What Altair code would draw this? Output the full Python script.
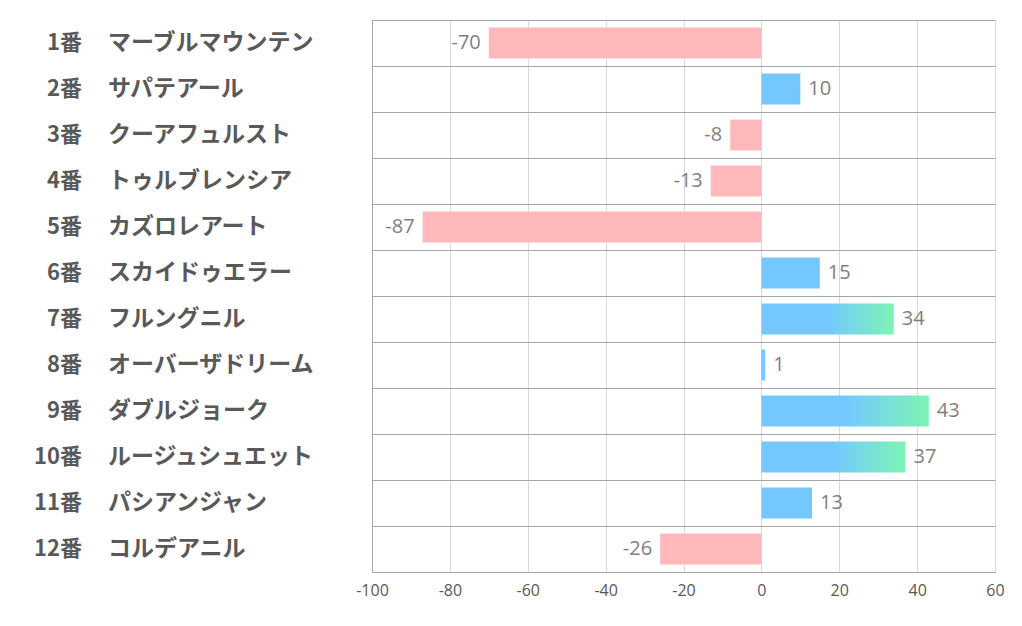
import altair as alt
import pandas as pd

nums = ["1番", "2番", "3番", "4番", "5番", "6番", "7番", "8番", "9番", "10番", "11番", "12番"]
names = ["マーブルマウンテン", "サパテアール", "クーアフュルスト", "トゥルブレンシア", "カズロレアート",
         "スカイドゥエラー", "フルングニル", "オーバーザドリーム", "ダブルジョーク", "ルージュシュエット",
         "パシアンジャン", "コルデアニル"]
values = [-70, 10, -8, -13, -87, 15, 34, 1, 43, 37, 13, -26]
x_ticks = [-100, -80, -60, -40, -20, 0, 20, 40, 60]

df = pd.DataFrame({"num": nums, "name": names, "value": values})
df["label"] = [str(v) for v in values]

y_enc = alt.Y("num:N", sort=nums, title=None,
              scale=alt.Scale(paddingInner=0, paddingOuter=0),
              axis=alt.Axis(labels=False, ticks=False, domain=True, domainColor="#a6a6a6",
                            grid=True, gridColor="#a6a6a6", tickBand="extent"))
x_enc = alt.X("value:Q", title=None,
              scale=alt.Scale(domain=[-100, 60], nice=False),
              axis=alt.Axis(values=x_ticks, ticks=False, domain=True, domainColor="#a6a6a6",
                            grid=True, gridColor="#d9d9d9", labelFontSize=16, labelColor="#595959",
                            labelPadding=10, labelFont="Open Sans", labelFlush=False,
                            labelExpr="'' + datum.value"))

base = alt.Chart(df)
bh = alt.RelativeBandSize(0.67)

neg = base.transform_filter("datum.value < 0").mark_bar(color="#FFB9BC", height=bh).encode(
    y=y_enc, x=x_enc, x2=alt.datum(0))
pos = base.transform_filter("datum.value >= 0 && datum.value < 30").mark_bar(
    color="#75C8FF", height=bh).encode(y=y_enc, x=x_enc, x2=alt.datum(0))
grad = alt.Gradient(gradient="linear", x1=0, y1=0, x2=1, y2=0,
                    stops=[alt.GradientStop(color="#75C8FF", offset=0),
                           alt.GradientStop(color="#75C8FF", offset=0.5),
                           alt.GradientStop(color="#7CF5B4", offset=1)])
pos_big = base.transform_filter("datum.value >= 30").mark_bar(color=grad, height=bh).encode(
    y=y_enc, x=x_enc, x2=alt.datum(0))

lab_pos = base.transform_filter("datum.value >= 0").mark_text(
    align="left", baseline="middle", dx=8, fontSize=20, color="#7f7f7f", font="Open Sans").encode(
    y=alt.Y("num:N", sort=nums), x="value:Q", text="label:N")
lab_neg = base.transform_filter("datum.value < 0").mark_text(
    align="right", baseline="middle", dx=-8, fontSize=20, color="#7f7f7f", font="Open Sans").encode(
    y=alt.Y("num:N", sort=nums), x="value:Q", text="label:N")

num_txt = base.mark_text(align="right", baseline="middle", fontSize=22, fontWeight="bold",
                         color="#595959", font="Noto Sans CJK JP").encode(
    y=alt.Y("num:N", sort=nums), x=alt.value(-290), text="num:N")
name_txt = base.mark_text(align="left", baseline="middle", fontSize=23, fontWeight="bold",
                          color="#595959", font="Noto Sans CJK JP").encode(
    y=alt.Y("num:N", sort=nums), x=alt.value(-264), text="name:N")

chart = alt.layer(neg, pos, pos_big, lab_pos, lab_neg, num_txt, name_txt).properties(
    width=623, height=552,
    autosize=alt.AutoSizeParams(type="none"),
    padding={"left": 364, "top": 12, "right": 10, "bottom": 40},
).configure_view(stroke=None).configure(background="white")

chart.save("out.html", embed_options={"renderer": "svg", "actions": False})
